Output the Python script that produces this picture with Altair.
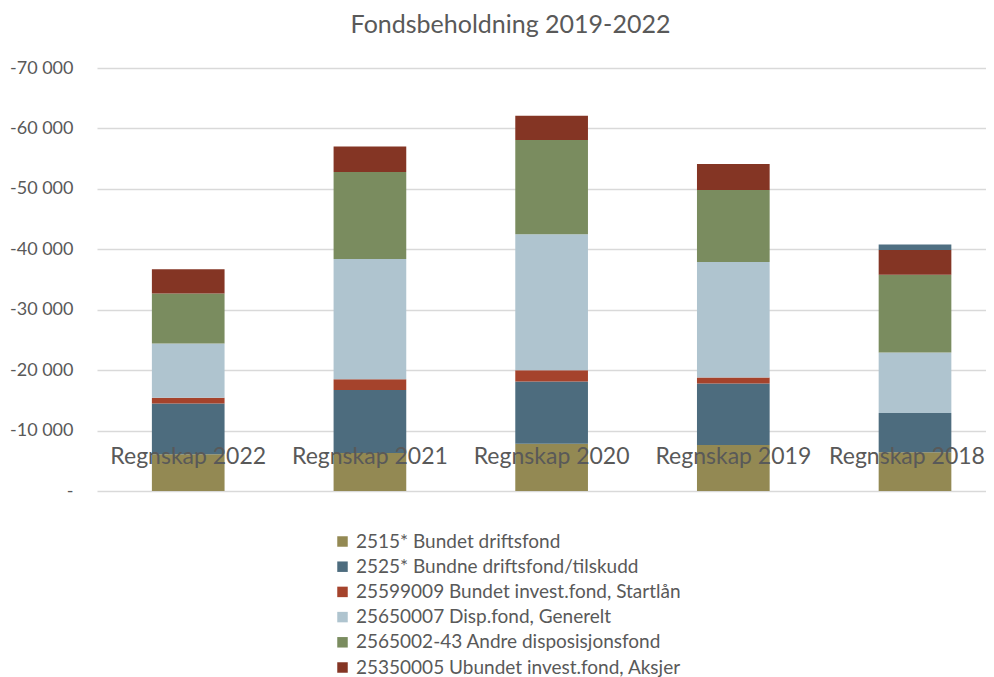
import altair as alt
import pandas as pd

categories = ["Regnskap 2022", "Regnskap 2021", "Regnskap 2020", "Regnskap 2019", "Regnskap 2018"]
series = [
    "2515* Bundet driftsfond",
    "2525* Bundne driftsfond/tilskudd",
    "25599009 Bundet invest.fond, Startlån",
    "25650007 Disp.fond, Generelt",
    "2565002-43 Andre disposisjonsfond",
    "25350005 Ubundet invest.fond,  Aksjer",
    "(utenfor bildet)",
]
colors = ["#938953", "#4d6c7e", "#a5432c", "#afc4cf", "#7a8c5f", "#843524", "#4f6f82"]

bundet_driftsfond = [-6100, -6300, -7800, -7600, -6400]
bundne_driftsfond = [-8400, -10400, -10300, -10200, -6500]
startlan = [-950, -1800, -1900, -1000, 0]
disp_generelt = [-8950, -19900, -22500, -19100, -10000]
andre_disp = [-8300, -14400, -15600, -11900, -12900]
aksjer = [-4000, -4200, -4000, -4300, -4100]
skjult = [0, 0, 0, 0, -900]

values = [bundet_driftsfond, bundne_driftsfond, startlan, disp_generelt, andre_disp, aksjer, skjult]

rows = []
for si, (name, vals) in enumerate(zip(series, values)):
    for cat, v in zip(categories, vals):
        rows.append({"kategori": cat, "serie": name, "verdi": v, "rekkefolge": si})
df = pd.DataFrame(rows)

FONT = "Lato"
GREY = "#595959"

chart = alt.Chart(df).mark_bar().encode(
    x=alt.X(
        "kategori:N",
        sort=categories,
        scale=alt.Scale(paddingInner=0.6, paddingOuter=0.2464, align=0.613),
        axis=alt.Axis(
            title=None, orient="bottom", offset=-46, ticks=False, domain=False,
            labelPadding=0, labelAngle=0, labelFontSize=23, labelColor=GREY,
            labelFont=FONT, zindex=1, grid=False, labelOverlap=False, labelBound=False,
            labelOffset={"condition": {"test": "datum.value == 'Regnskap 2018'", "value": -8}, "value": 0},
        ),
    ),
    y=alt.Y(
        "verdi:Q",
        stack="zero",
        scale=alt.Scale(domain=[-70000, 0], reverse=True, nice=False),
        axis=alt.Axis(
            title=None, values=[0, -10000, -20000, -30000, -40000, -50000, -60000, -70000],
            labelExpr="datum.value == 0 ? '-' : '-' + replace(format(abs(datum.value), ','), ',', ' ')",
            ticks=False, domain=False, labelPadding=24, labelFontSize=18, labelColor=GREY,
            labelFont=FONT, gridColor="#d9d9d9", gridWidth=1.3,
        ),
    ),
    color=alt.Color(
        "serie:N",
        scale=alt.Scale(domain=series, range=colors),
        sort=series,
        legend=alt.Legend(
            title=None, orient="none", legendX=236, legendY=464, values=series[:6],
            symbolType="square", symbolSize=110, symbolStrokeWidth=0, labelFontSize=19,
            labelColor=GREY, labelFont=FONT, rowPadding=5.2, labelOffset=4, labelLimit=600,
        ),
    ),
    order=alt.Order("rekkefolge:Q", sort="ascending"),
).properties(
    width=889,
    height=423,
    title=alt.TitleParams(
        "Fondsbeholdning 2019-2022", fontSize=25, color=GREY, font=FONT,
        fontWeight="normal", anchor="middle", offset=21, dx=-31,
    ),
    autosize=alt.AutoSizeParams(type="none"),
    padding={"left": 89, "top": 60, "right": 0, "bottom": 186},
).configure_view(stroke=None)

chart.save("out.html", embed_options={"renderer": "svg", "actions": False})
